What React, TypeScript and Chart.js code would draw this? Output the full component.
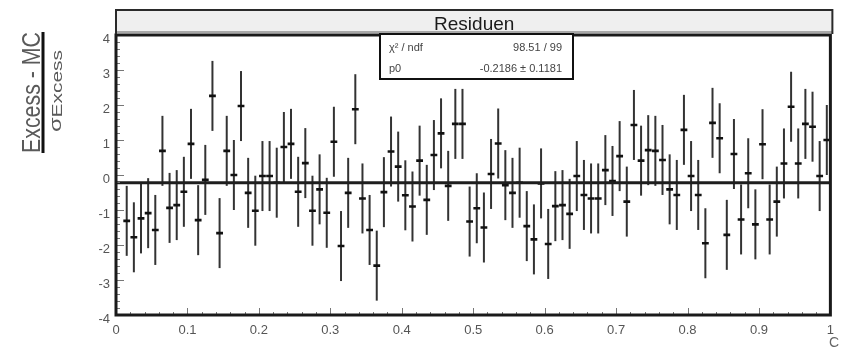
import React, { useEffect, useRef } from 'react';
import { Chart, registerables } from 'chart.js';

Chart.register(...registerables);

// ---------------- data ----------------
const binWidth = 0.01;
const firstBin = 1; // bin 0 shows no point
const residuals = [
  -1.31, -1.78, -1.24, -1.09, -1.57, 0.69, -0.94, -0.86, -0.48, 0.89,
  -1.29, -0.14, 2.26, -1.66, 0.69, 0.0, 1.97, -0.51, -1.02, -0.03,
  -0.03, -0.22, 0.8, 0.89, -0.48, 0.34, -1.02, -0.41, -1.08, 0.95,
  -2.03, -0.51, 1.88, -0.67, -1.57, -2.59, -0.49, 0.67, 0.24, -0.58,
  -0.9, 0.41, -0.71, 0.57, 1.19, -0.31, 1.46, 1.46, -1.33, -0.95,
  -1.5, 0.03, 0.9, -0.29, -0.51, -0.22, -1.46, -1.84, -0.24, -1.97,
  -0.89, -0.86, -1.11, -0.03, -0.57, -0.67, -0.67, 0.14, -0.17, 0.54,
  -0.76, 1.43, 0.41, 0.71, 0.69, 0.43, -0.41, -0.57, 1.29, -0.03,
  -0.57, -1.95, 1.49, 1.05, -1.71, 0.6, -1.27, 0.05, -1.41, 0.88,
  -1.27, -0.76, 0.33, 1.95, 0.33, 1.46, 1.38, -0.03, 1.0,
];
const errorBar = 1.0;
const binCenters = residuals.map((_, i) => (firstBin + i + 0.5) * binWidth);

const fitP0 = -0.2186;
const chi2Text = '98.51 / 99';
const p0Text = '-0.2186 ± 0.1181';

const xTickValues = [0, 0.1, 0.2, 0.3, 0.4, 0.5, 0.6, 0.7, 0.8, 0.9, 1];
const xTickLabels = ['0', '0.1', '0.2', '0.3', '0.4', '0.5', '0.6', '0.7', '0.8', '0.9', '1'];
const yTickValues = [-4, -3, -2, -1, 0, 1, 2, 3, 4];
const yTickLabels = ['-4', '-3', '-2', '-1', '0', '1', '2', '3', '4'];

const titleText = 'Residuen';
const yTitleNumerator = 'Excess - MC';
const yTitleSigma = 'σ';
const yTitleSub = 'Excess';
const xTitleFragment = 'C';

const FONT = "'Liberation Sans', Arial, Helvetica, sans-serif";

const rootPlugin = {
  id: 'rootDecor',
  beforeDatasetsDraw(chart: any) {
    const { ctx, scales } = chart;
    const x = scales.x;
    const y = scales.y;
    ctx.save();
    ctx.strokeStyle = '#333';
    ctx.lineWidth = 2;
    binCenters.forEach((bc, i) => {
      const v = residuals[i];
      const px = x.getPixelForValue(bc);
      ctx.beginPath();
      ctx.moveTo(px, y.getPixelForValue(v + errorBar));
      ctx.lineTo(px, y.getPixelForValue(v - errorBar));
      ctx.stroke();
    });
    ctx.restore();
  },
  afterDraw(chart: any) {
    const { ctx, chartArea, scales } = chart;
    const { left, right, top, bottom } = chartArea;
    const x = scales.x;
    const y = scales.y;
    ctx.save();

    // inner ticks on y axis
    ctx.strokeStyle = '#777';
    ctx.lineWidth = 1;
    for (let k = 0; k <= 40; k++) {
      const v = -4 + k * 0.2;
      const py = Math.round(y.getPixelForValue(v)) + 0.5;
      const len = k % 5 === 0 ? 8 : 4;
      ctx.beginPath();
      ctx.moveTo(left, py);
      ctx.lineTo(left + len, py);
      ctx.stroke();
    }
    // inner ticks on x axis
    for (let k = 0; k <= 50; k++) {
      const v = k * 0.02;
      const px = Math.round(x.getPixelForValue(v)) + 0.5;
      const len = k % 5 === 0 ? 7 : 3;
      ctx.beginPath();
      ctx.moveTo(px, bottom);
      ctx.lineTo(px, bottom - len);
      ctx.stroke();
    }

    // frame
    ctx.strokeStyle = '#1a1a1a';
    ctx.lineWidth = 3;
    ctx.strokeRect(left, top, right - left, bottom - top);

    // title box
    const tbLeft = left;
    const tbRight = right + 2;
    ctx.fillStyle = '#efefef';
    ctx.fillRect(tbLeft, 10, tbRight - tbLeft, 22);
    ctx.fillStyle = '#a8a8a8';
    ctx.fillRect(tbLeft, 31, tbRight - tbLeft, 2);
    ctx.strokeStyle = '#2a2a2a';
    ctx.lineWidth = 2;
    ctx.beginPath();
    ctx.moveTo(tbLeft, 34);
    ctx.lineTo(tbLeft, 10);
    ctx.lineTo(tbRight, 10);
    ctx.lineTo(tbRight, 34);
    ctx.stroke();
    ctx.fillStyle = '#1a1a1a';
    ctx.font = `19px ${FONT}`;
    ctx.textAlign = 'center';
    ctx.textBaseline = 'alphabetic';
    ctx.fillText(titleText, (tbLeft + tbRight) / 2, 30);

    // stats box
    const sbL = 380, sbR = 573, sbT = 34, sbB = 79;
    ctx.fillStyle = '#ffffff';
    ctx.fillRect(sbL, sbT, sbR - sbL, sbB - sbT);
    ctx.strokeStyle = '#111';
    ctx.lineWidth = 2;
    ctx.strokeRect(sbL, sbT, sbR - sbL, sbB - sbT);
    ctx.fillStyle = '#444';
    ctx.font = `11px ${FONT}`;
    ctx.textAlign = 'left';
    ctx.fillText('χ² / ndf', 389, 51);
    ctx.fillText('p0', 389, 72);
    ctx.textAlign = 'right';
    ctx.fillText(chi2Text, 562, 51);
    ctx.fillText(p0Text, 562, 72);

    // y axis title: fraction
    ctx.fillStyle = '#5a5a5a';
    ctx.save();
    ctx.translate(40, 92.5);
    ctx.rotate(-Math.PI / 2);
    ctx.font = `26px ${FONT}`;
    const wNum = ctx.measureText(yTitleNumerator).width;
    ctx.scale(121 / wNum, 1);
    ctx.textAlign = 'center';
    ctx.fillText(yTitleNumerator, 0, 0);
    ctx.restore();

    ctx.fillStyle = '#111';
    ctx.fillRect(41.5, 32, 3, 121);

    ctx.fillStyle = '#5a5a5a';
    ctx.save();
    ctx.translate(61, 91);
    ctx.rotate(-Math.PI / 2);
    ctx.font = `17px ${FONT}`;
    const wSig = ctx.measureText(yTitleSigma).width;
    ctx.font = `15px ${FONT}`;
    const wSub = ctx.measureText(yTitleSub).width;
    const total = wSig + wSub;
    ctx.scale(82 / total, 1);
    ctx.textAlign = 'left';
    ctx.font = `17px ${FONT}`;
    ctx.fillText(yTitleSigma, -total / 2, 0);
    ctx.font = `15px ${FONT}`;
    ctx.fillText(yTitleSub, -total / 2 + wSig, 1);
    ctx.restore();

    // x-axis title fragment
    ctx.fillStyle = '#666';
    ctx.font = `14px ${FONT}`;
    ctx.textAlign = 'right';
    ctx.fillText(xTitleFragment, 839, 347);

    ctx.restore();
  },
};

export default function App() {
  const ref = useRef<HTMLCanvasElement>(null);
  useEffect(() => {
    const canvas = ref.current!;
    const chart = new Chart(canvas, {
      type: 'scatter',
      data: {
        datasets: [
          {
            type: 'line',
            label: 'p0',
            data: [
              { x: 0, y: fitP0 },
              { x: 1, y: fitP0 },
            ],
            borderColor: '#1e1e1e',
            borderWidth: 3,
            pointRadius: 0,
            order: 0,
          } as any,
          {
            label: titleText,
            data: binCenters.map((bc, i) => ({ x: bc, y: residuals[i] })),
            pointStyle: 'line',
            pointRadius: 3.4,
            borderWidth: 2.6,
            borderColor: '#111',
            backgroundColor: '#111',
            order: 1,
          },
        ],
      },
      options: {
        responsive: false,
        animation: false,
        devicePixelRatio: 1,
        layout: { padding: { left: 0, right: 4, top: 35, bottom: 0 } },
        plugins: {
          legend: { display: false },
          tooltip: { enabled: false },
          title: { display: false },
        },
        scales: {
          x: {
            type: 'linear',
            min: 0,
            max: 1,
            grid: { display: false, drawTicks: false },
            border: { display: false },
            afterFit: (s: any) => {
              s.height = 34;
            },
            afterBuildTicks: (s: any) => {
              s.ticks = xTickValues.map((value) => ({ value }));
            },
            ticks: {
              autoSkip: false,
              maxRotation: 0,
              padding: 8,
              color: '#555',
              font: { family: FONT, size: 13 },
              callback: (_v: any, i: number) => xTickLabels[i],
            },
          },
          y: {
            type: 'linear',
            min: -4,
            max: 4,
            grid: { display: false, drawTicks: false },
            border: { display: false },
            afterFit: (s: any) => {
              s.width = 116;
            },
            afterBuildTicks: (s: any) => {
              s.ticks = yTickValues.map((value) => ({ value }));
            },
            ticks: {
              autoSkip: false,
              padding: 6,
              labelOffset: 4,
              color: '#555',
              font: { family: FONT, size: 13 },
              callback: (_v: any, i: number) => yTickLabels[i],
            },
          },
        },
      } as any,
      plugins: [rootPlugin],
    });
    return () => chart.destroy();
  }, []);
  return (
    <div style={{ position: 'absolute', left: 0, top: 0, width: 842, height: 349, background: '#fff' }}>
      <canvas ref={ref} width={842} height={349} style={{ display: 'block', width: 842, height: 349 }} />
    </div>
  );
}
